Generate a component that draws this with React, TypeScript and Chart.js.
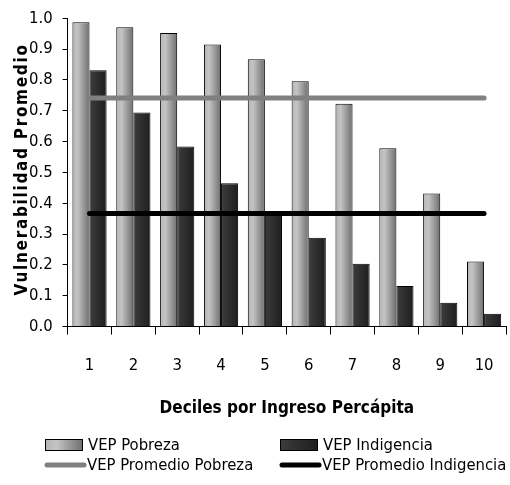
import React, { useEffect, useRef } from "react";
import { Chart, registerables } from "chart.js";

Chart.register(...registerables);

const categorias = ["1", "2", "3", "4", "5", "6", "7", "8", "9", "10"];
const vepPobreza = [0.987, 0.971, 0.952, 0.915, 0.867, 0.796, 0.723, 0.578, 0.432, 0.211];
const vepIndigencia = [0.831, 0.694, 0.584, 0.465, 0.368, 0.288, 0.204, 0.132, 0.077, 0.042];
const promedioPobreza = [0.741, 0.741, 0.741, 0.741, 0.741, 0.741, 0.741, 0.741, 0.741, 0.741];
const promedioIndigencia = [0.367, 0.367, 0.367, 0.367, 0.367, 0.367, 0.367, 0.367, 0.367, 0.367];

const yTitle = "Vulnerabilidad Promedio";
const xTitle = "Deciles por Ingreso Percápita";

const FONT = "'DejaVu Sans Condensed', 'Liberation Sans', sans-serif";
const FS = 16.5;
const CAT_PCT = 0.78;

const grayStops: [number, string][] = [
  [0, "#b4b4b4"],
  [0.3, "#c4c4c4"],
  [1, "#6e6e6e"],
];
const darkStops: [number, string][] = [
  [0, "#3c3c3c"],
  [1, "#1e1e1e"],
];

function makeGrad(ctx: CanvasRenderingContext2D, x0: number, x1: number, stops: [number, string][]) {
  const g = ctx.createLinearGradient(x0, 0, x1, 0);
  stops.forEach(([o, c]) => g.addColorStop(o, c));
  return g;
}

function barFill(stops: [number, string][], side: number) {
  return (context: any) => {
    const chart = context.chart;
    const xs = chart.scales?.x;
    if (!xs || context.dataIndex === undefined) return stops[0][1];
    const catW = xs.width / categorias.length;
    const bw = (catW * CAT_PCT) / 2;
    const c = xs.getPixelForValue(context.dataIndex);
    const x0 = side < 0 ? c - bw : c;
    if (!Number.isFinite(x0) || !Number.isFinite(bw) || bw <= 0) return stops[0][1];
    return makeGrad(chart.ctx, x0, x0 + bw, stops);
  };
}

const customPlugin = {
  id: "customDraw",
  afterDraw(chart: any) {
    const ctx: CanvasRenderingContext2D = chart.ctx;
    const area = chart.chartArea;
    // Y axis title with letter spacing
    ctx.save();
    ctx.translate(23, (area.top + area.bottom) / 2 - 3);
    ctx.rotate(-Math.PI / 2);
    ctx.font = `bold 17px ${FONT}`;
    (ctx as any).letterSpacing = "1.7px";
    ctx.fillStyle = "#000";
    ctx.textAlign = "center";
    ctx.textBaseline = "middle";
    ctx.fillText(yTitle, 0, 0);
    ctx.restore();

    // Legend
    const ds = chart.data.datasets;
    const cols = [45, 280];
    const rows = [chart.height - 40, chart.height - 20];
    const order = [0, 1, 2, 3];
    ctx.save();
    ctx.font = `${FS}px ${FONT}`;
    ctx.textBaseline = "middle";
    ctx.textAlign = "left";
    order.forEach((i, k) => {
      const d = ds[i];
      const x = cols[k % 2];
      const y = rows[Math.floor(k / 2)];
      if (d.type === "line") {
        ctx.strokeStyle = d.borderColor;
        ctx.lineWidth = 5;
        ctx.lineCap = "round";
        ctx.beginPath();
        ctx.moveTo(x + 2, y);
        ctx.lineTo(x + 39, y);
        ctx.stroke();
        ctx.fillStyle = "#000";
        ctx.fillText(d.label, x + 42, y + 1);
      } else {
        const stops = i === 0 ? grayStops : darkStops;
        ctx.fillStyle = makeGrad(ctx, x, x + 38, stops);
        ctx.fillRect(x, y - 6, 38, 12);
        ctx.strokeStyle = "#000";
        ctx.lineWidth = 1;
        ctx.strokeRect(x + 0.5, y - 5.5, 37, 11);
        ctx.fillStyle = "#000";
        ctx.fillText(d.label, x + 43, y + 1);
      }
    });
    ctx.restore();
  },
};

export default function App() {
  const ref = useRef<HTMLCanvasElement | null>(null);
  useEffect(() => {
    if (!ref.current) return;
    const chart = new Chart(ref.current, {
      type: "bar",
      data: {
        labels: categorias,
        datasets: [
          {
            type: "bar",
            label: "VEP Pobreza",
            data: vepPobreza,
            backgroundColor: barFill(grayStops, -1),
            borderColor: "#000",
            borderWidth: 1,
            borderSkipped: "bottom",
            categoryPercentage: CAT_PCT,
            barPercentage: 1,
            order: 2,
          },
          {
            type: "bar",
            label: "VEP Indigencia",
            data: vepIndigencia,
            backgroundColor: barFill(darkStops, 1),
            borderColor: "#000",
            borderWidth: 1,
            borderSkipped: "bottom",
            categoryPercentage: CAT_PCT,
            barPercentage: 1,
            order: 2,
          },
          {
            type: "line",
            label: "VEP Promedio Pobreza",
            data: promedioPobreza,
            borderColor: "#808080",
            borderWidth: 5,
            borderCapStyle: "round",
            pointRadius: 0,
            fill: false,
            order: 0,
          } as any,
          {
            type: "line",
            label: "VEP Promedio Indigencia",
            data: promedioIndigencia,
            borderColor: "#000000",
            borderWidth: 5,
            borderCapStyle: "round",
            pointRadius: 0,
            fill: false,
            order: 0,
          } as any,
        ],
      },
      plugins: [customPlugin],
      options: {
        responsive: true,
        maintainAspectRatio: false,
        animation: false,
        layout: { padding: { left: 19, right: 4, top: 6, bottom: 66 } },
        plugins: {
          legend: { display: false },
          tooltip: { enabled: false },
        },
        scales: {
          x: {
            offset: true,
            grid: {
              offset: true,
              drawOnChartArea: false,
              drawTicks: true,
              tickLength: 8,
              color: "#000",
            },
            border: { color: "#000", width: 1 },
            ticks: {
              color: "#000",
              font: { family: FONT, size: FS, lineHeight: "62px" },
              padding: 0,
              maxRotation: 0,
            },
            title: {
              display: true,
              text: xTitle,
              color: "#000",
              font: { family: FONT, size: 17, weight: "bold" },
              padding: { top: 2, bottom: 0 },
            },
          },
          y: {
            min: 0,
            max: 1,
            grid: {
              drawOnChartArea: false,
              drawTicks: true,
              tickLength: 5,
              color: "#000",
            },
            border: { color: "#000", width: 1 },
            ticks: {
              stepSize: 0.1,
              color: "#000",
              font: { family: FONT, size: FS, lineHeight: 1 },
              padding: 10,
              callback: (v: any) => Number(v).toFixed(1),
            },
          },
        },
      },
    });
    return () => chart.destroy();
  }, []);
  return (
    <div style={{ position: "absolute", left: 0, top: 0, width: 510, height: 485, background: "#fff" }}>
      <canvas ref={ref} />
    </div>
  );
}
